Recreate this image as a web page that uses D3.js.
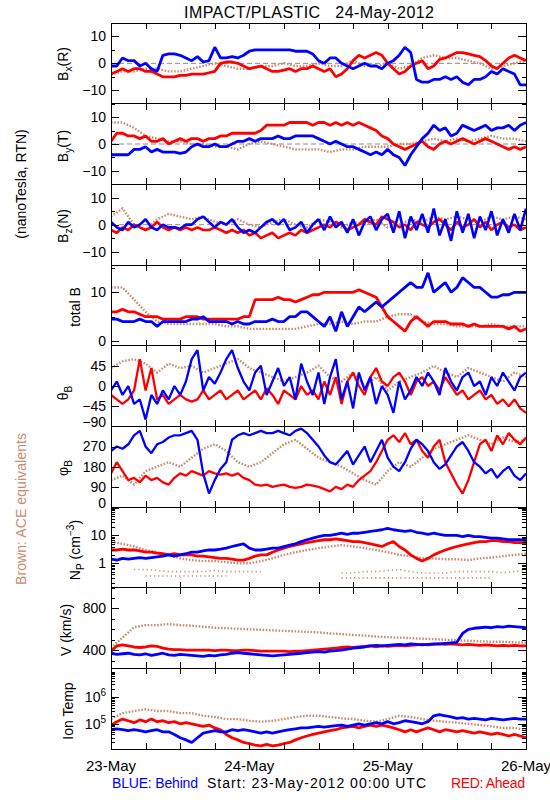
<!DOCTYPE html>
<html><head><meta charset="utf-8">
<script src="https://cdn.jsdelivr.net/npm/d3@7"></script>
<style>
body{margin:0;background:#fff;}
svg text{font-family:"Liberation Sans",Arial,Helvetica,sans-serif;}
</style>
</head><body>
<svg id="chart" width="550" height="800"></svg>
<script>
// ---------------- DATA ----------------
// STEREO Behind (blue) and Ahead (red): hourly samples from 23-May 00:00 (72 h)
// ACE (brown): 2-hourly samples
const dayLabels = ['23-May','24-May','25-May','26-May'];
const dayHours = [0,24,48,72];
const minorTickHours = [6,12,18,24,30,36,42,48,54,60,66];

const bTicks = [-10,0,10], bMinor = [-15,-5,5,15];
const totBTicks = [0,10], totBMinor = [5,15];
const thetaTicks = [-90,-45,0,45], thetaMinor = [];
const phiTicks = [0,90,180,270], phiMinor = [];
const npTicks = [1,10,100], npMinor = [0.2,0.3,0.4,0.5,0.6,0.7,0.8,0.9,2,3,4,5,6,7,8,9,20,30,40,50,60,70,80,90];
const vTicks = [400,800], vMinor = [300,500,600,700,900,1000];
const tTicks = [1e5,1e6], tMinor = [2e4,3e4,4e4,5e4,6e4,7e4,8e4,9e4,2e5,3e5,4e5,5e5,6e5,7e5,8e5,9e5,2e6,3e6,4e6,5e6,6e6,7e6,8e6,9e6];

const behindBx = [-1,-1,2,1,1,-1,0,-2,-3,3,3.5,3.5,3,2,1,2.5,0.5,1,6,2,2,2.5,2,3,4.5,5,5,5,5,5,5,5,4.5,4.5,4.5,3.5,1,0,2,2,0,-1,-2,-1,0,-1,-1,-2,0,1,3,6,4,-6,-7,-7,-6,-6,-5,-6,-5,-7,-8,-6,-6,-5,-3,-4,-2,-3,-4,-8,-8];
const aheadBx = [-4,-3,-2,-3,-2,-2,-3,-3,-4,-5,-5,-5,-4.5,-4.5,-4,-4,-4,-3.5,-3,0,0.5,0.5,0,-1,-2,-1.5,-1,-2,-3,-3,-2.5,-2,-3,-2,-2,-1,-2,-3,-2,-5,-4,-2,1,3,2,3,4,3,0,-2,-4,-3,-1,0,1,-2,-1,1.5,2,3,4,4,3.5,3,2.5,1,-1,-2,0,2,3,2,1];
const aceBx = [-4,-3,-3,-2,-2,-3,-3,-2,-1,0,-1,-2,-2,-1,-1,0,-1,-1,0,-1,-1,1,-1,-1,0,-2,-1,2,3,2,2,1,0,-2,-1,0,1];

const behindBy = [-4,-4,-4,-4,-2,-2,-1,-3,-2,-3,-3,-3,-3.5,-3,-1,0,-1,-1,0,-1,-1,0,1,1,2,1,2,2,2,3,2,2,3,3,3,3,2,1,0,1,0,-1,-1,-2,-3,-4,-3,-4,-2,-4,-5,-8,-4,-1,2,4,7,5,6,3,4,7,6,5,6,7,5,6,6,7,5,7,8];
const aheadBy = [1,4,4,3,3,2,3,1,1,2,0,1,2,1,2,2,1,2,2,3,3,4,4,4,4,4,5,7,7,7,7,8,8,8,8,7,8,8,7,8,7,8,7,8,7,6,5,3,2,0,-1,-2,-1,0,1,-1,-2,0,1,0,1,2,1,0,1,2,1,0,-1,-2,-1,-2,-1];
const aceBy = [8,8,6,3,2,1,1,0,0,-1,-1,-2,0,1,0,-1,-2,-2,-2,-3,-2,-2,-1,-1,-1,0,0,1,2,1,2,1,2,3,2,2,1];

const behindBz = [1,-1,-2,1,-1,0,2,-1,-2,0,-1,-1,-1.5,0,0,2,3,1,-1,1,0,2,-1,-3,-2,-3,-1,1,2,0,2,-2,-1,1,-3,0,2,-2,3,-1,1,-3,2,-4,1,3,-2,2,4,-3,5,-5,3,-2,4,-3,6,-4,2,-6,5,-3,4,-5,3,-2,5,-4,2,-3,4,-2,6];
const aheadBz = [-2,-3,-1,-2,0,-1,-2,-1,1,-1,-2,-1,-2,-1,-2,-1,-2,-2,-1,-2,-3,-2,-3,-2,-4,-3,-5,-4,-3,-5,-4,-3,-4,-2,-3,-2,-1,0,-1,1,0,-2,-1,0,2,1,0,3,2,1,-1,0,-2,1,0,-1,1,2,0,-2,1,-1,0,2,-1,1,-2,0,1,-1,0,-2,-1];
const aceBz = [3,6,0,-2,2,4,3,2,3,1,0,2,0,-1,1,2,0,-1,2,1,-1,1,0,2,-1,0,2,1,3,2,3,2,1,3,2,3,2];

const behindB = [4.5,4.5,4,4,4,4.5,4,4,3,4,4,4,4,4,4.5,4.5,5,4,4,4,4,3.5,4,3.5,3.5,4,4,4,4.5,4,4,5,5,6,6,5,4,3,5,2,6,3,5,7,6,7,8,7,8,9,10,11,12,11,11,14,10,11,12,10,11,13,12,11,11,10,9,9,9.5,9.5,10,10,10];
const aheadB = [6,6,6.5,6,6,5.5,5,5,5,4.5,4.5,4.5,4.5,5,5,5,4.5,4.5,4.5,4.5,4.5,4.5,4.5,5,5,8.5,8.5,8.5,8.5,9,8.5,8.5,8,8.5,9,9.5,9.5,10,10,10,10,10,10,10.5,10,9.5,9,7,5,4,3,2,4,5,4,3,4,4,4,3.5,3.5,3.5,3,3.5,3,3,3,3,3,2.5,3,2,2.5];
const aceB = [11,11,8.5,6,4,3.5,3.5,3.5,3.5,3.5,3,3,2.5,2.5,2.5,2.5,2.5,3,3.5,3.5,4,3.5,4,4,5,5.5,5.5,4,3.5,3.5,3,3,3,3.5,3,3,3];

const behindTheta = [-10,10,-20,0,-40,-30,-75,-20,-40,-10,-30,0,-20,10,60,80,-10,20,5,30,60,80,40,10,-10,30,45,-20,10,40,0,20,-30,50,10,-20,30,-40,20,60,-30,10,-50,30,-10,20,-40,0,-20,-60,10,-30,-10,20,0,30,10,-20,40,10,-10,20,30,0,10,-20,20,0,30,10,-10,20,30];
const aheadTheta = [-20,-30,-40,-30,-10,60,-10,40,-30,-20,-40,-30,-20,-30,-35,-30,-10,-30,-20,-10,-30,-20,-10,-30,-20,-10,-30,-5,-20,-40,-10,-20,-30,0,-20,-10,-30,10,-20,20,-40,10,30,0,-20,20,40,10,0,20,30,10,-20,10,20,0,10,-10,20,0,-20,-10,-30,-20,-10,-30,-20,-40,-30,-45,-30,-50,-60];
const aceTheta = [40,55,60,50,30,50,40,45,30,40,50,60,40,30,20,10,20,30,45,20,10,30,0,20,-10,10,20,30,45,30,20,40,30,20,10,30,20];

const behindPhi = [250,270,260,280,320,340,270,240,280,290,310,320,320,330,340,300,150,60,120,170,200,300,320,330,320,330,340,330,330,340,330,320,340,350,330,300,270,230,200,190,220,250,190,230,270,200,250,300,220,180,160,200,260,300,280,250,200,170,190,230,270,290,250,200,180,150,170,130,160,180,140,120,150];
const aheadPhi = [150,200,160,120,130,110,140,120,130,110,100,130,150,140,160,150,140,160,150,145,150,140,150,130,120,100,95,100,90,95,100,90,85,90,100,95,90,80,70,90,80,100,90,120,140,160,200,250,300,320,290,330,280,300,250,220,270,300,200,150,100,60,120,200,280,300,250,320,280,330,300,280,310];
const acePhi = [120,140,100,160,180,200,180,220,260,280,250,200,180,200,240,280,300,260,220,200,180,150,120,100,160,200,180,220,260,280,300,320,300,280,310,290,300];

const behindNp = [1.4,1.3,1.5,1.4,1.5,1.6,1.5,1.6,1.7,1.8,2,1.8,2,2.2,2.5,2.5,2.8,3,3,3.2,3.5,4,4.5,5,3.5,3,3,3.2,3.5,3.5,4,4.5,5,6,7,8,9,10,10,11,12,11,12,12,13,14,15,16,18,16,15,14,15,13,12,11,12,11,10,10,10,9,10,9,9,8.5,8,8,7.5,7,7,7,6.5];
const aheadNp = [3,3,3.2,3,3,2.8,2.5,2.5,2.3,2.2,2,2.2,2,2,2,1.8,1.8,1.7,1.6,1.5,1.5,1.4,1.3,1.3,1.5,1.8,2,2,2.5,3,3.5,4,4.5,5,5.5,6,6.5,7,7,7.5,7,6.5,6,6,5.5,5,4.5,4,5,6,4,3,2,1.5,1.2,1.5,2,2.5,3,3.5,4,4.5,5,5.5,6,6,6.5,6.5,6,6,5.5,5.5,5];
const aceNp = [6,5,4,3,2.5,2,1.5,1.3,1.2,1.2,1.1,1,1,1.2,1.5,2,2.5,3,3.5,4,4.5,4,3.5,3,2.5,2,1.8,1.5,1.5,1.4,1.4,1.3,1.5,1.6,1.8,2,2.2];
const aceNpLowA = [null,null,0.6,0.6,0.55,0.5,0.5,0.5,0.5,0.55,0.5,0.5,0.5,0.5,null,null,null,null,null,null,0.45,0.45,0.5,0.5,0.55,0.6,0.5,0.45,0.45,0.45,0.5,0.5,0.5,0.5,0.45,0.5,0.55];
const aceNpLowB = [null,null,null,0.35,0.35,0.35,0.35,0.35,0.35,0.35,0.35,null,null,null,null,null,null,null,null,null,0.3,0.3,0.3,0.3,0.3,0.3,0.3,0.3,0.3,0.3,0.3,0.3,0.3,0.3,null,null,null];

const behindV = [370,360,365,370,360,355,365,350,360,370,355,350,360,355,350,345,340,350,345,355,360,370,375,370,365,360,355,350,345,350,355,360,365,370,375,380,385,380,390,395,400,410,420,425,430,440,445,440,445,450,455,450,460,455,450,455,460,460,465,470,475,560,600,610,615,620,615,625,620,630,625,620,615];
const aheadV = [390,440,450,440,430,425,430,440,435,420,410,405,405,400,400,400,400,400,395,400,400,395,395,400,400,395,390,390,390,390,390,385,390,390,395,400,405,410,415,420,425,430,425,430,435,440,430,440,435,440,445,440,445,450,455,450,455,460,455,460,455,450,455,450,445,450,445,440,445,440,445,440,440];
const aceV = [420,520,620,640,640,650,640,635,625,615,610,605,600,595,590,585,580,575,570,560,555,545,540,530,525,520,515,510,505,500,495,490,485,480,480,475,470];

const behindT = [6e4,6.5e4,6e4,5.5e4,6e4,5.5e4,5e4,5.5e4,6e4,5e4,5e4,4e4,3e4,2.5e4,2e4,3e4,4.5e4,5e4,5.5e4,5e4,5e4,6e4,5.5e4,6e4,5.5e4,5e4,4.5e4,5e4,4.5e4,5e4,5.5e4,6e4,6.5e4,7e4,7e4,7.5e4,8e4,7.5e4,8e4,8.5e4,9e4,8e4,9e4,1e5,9e4,1e5,1.1e5,1e5,1.2e5,1e5,1.1e5,1.3e5,1.2e5,1.1e5,1e5,1.2e5,2e5,2.2e5,2e5,1.8e5,1.6e5,1.7e5,1.5e5,1.6e5,1.5e5,1.4e5,1.6e5,1.5e5,1.4e5,1.5e5,1.6e5,1.5e5,1.5e5];
const aheadT = [9e4,1.2e5,1.5e5,1.3e5,1.1e5,1.4e5,1.2e5,1.5e5,1.2e5,1.3e5,1.1e5,1.2e5,1e5,1.1e5,1e5,9e4,8e4,9e4,7e4,6e4,4e4,3e4,2.5e4,2e4,1.8e4,1.6e4,1.5e4,1.7e4,1.5e4,1.6e4,1.8e4,2e4,2.5e4,3e4,3.5e4,4e4,4.5e4,5e4,5.5e4,6e4,7e4,7.5e4,8e4,7e4,8e4,9e4,8e4,9e4,8e4,7e4,6e4,5e4,6e4,5e4,6e4,7e4,6e4,5e4,6e4,5.5e4,5e4,5.5e4,5e4,4.5e4,5e4,4.5e4,4e4,4.5e4,4e4,3.5e4,4e4,3.5e4,3e4];
const aceT = [1.5e5,2.5e5,3e5,3.5e5,3e5,3e5,2.5e5,2.5e5,2e5,1.8e5,1.5e5,1.5e5,1.3e5,1.2e5,1.3e5,1.5e5,1.8e5,2e5,2e5,1.8e5,1.6e5,1.5e5,1.3e5,1.2e5,1.5e5,2e5,1.8e5,1.5e5,1.3e5,1.2e5,1.1e5,1e5,9e4,8e4,7e4,7e4,6e4];

const mainStepHours = 1, aceStepHours = 2, totalHours = 72;

// ---------------- LAYOUT ----------------
const W = 550, H = 800;
const left = 111, right = 526, top0 = 23, bottom0 = 749;
const nP = 9, ph = (bottom0 - top0) / nP;
const BLUE = '#0000ff', RED = '#ff0000', BROWN = '#c98c6e';

const minus = s => String(s).replace('-', '\u2212');
const linFmt = d => minus(d);
const expFmt = d => '10|' + Math.round(Math.log10(d));

const panels = [
  {label:[['B'],['x','sub'],['(R)']], lx:68, ly:64, domain:[-15,15], ticks:bTicks, minor:bMinor, blue:behindBx, red:aheadBx, brown:[aceBx], zero:true, w:2.8},
  {label:[['B'],['y','sub'],['(T)']], lx:68, ly:146, domain:[-15,15], ticks:bTicks, minor:bMinor, blue:behindBy, red:aheadBy, brown:[aceBy], zero:true, w:2.8},
  {label:[['B'],['z','sub'],['(N)']], lx:68, ly:226, domain:[-15,15], ticks:bTicks, minor:bMinor, blue:behindBz, red:aheadBz, brown:[aceBz], zero:true, w:2.6},
  {label:[['total B']], lx:80, ly:307, domain:[-0.95,15.6], ticks:totBTicks, minor:totBMinor, blue:behindB, red:aheadB, brown:[aceB], w:2.8},
  {label:[['\u03B8'],['B','sub']], lx:68, ly:393, domain:[-90,90], ticks:thetaTicks, minor:thetaMinor, blue:behindTheta, red:aheadTheta, brown:[aceTheta], edgeShift:true, w:2.3},
  {label:[['\u03C6'],['B','sub']], lx:68, ly:468, domain:[0,360], ticks:phiTicks, minor:phiMinor, blue:behindPhi, red:aheadPhi, brown:[acePhi], edgeShift:true, w:2.3},
  {label:[['N'],['P','sub'],[' (cm'],['\u22123','sup'],[')']], lx:80, ly:550, log:true, domain:[0.133,105], ticks:npTicks, minor:npMinor, blue:behindNp, red:aheadNp, brown:[aceNp, aceNpLowA, aceNpLowB], fmt:d=>String(d), hide:[100], w:2.8},
  {label:[['V (km/s)']], lx:71, ly:630, domain:[225,1000], ticks:vTicks, minor:vMinor, blue:behindV, red:aheadV, brown:[aceV], w:2.8},
  {label:[['Ion Temp']], lx:73, ly:711, log:true, domain:[1.14e4,1.19e7], ticks:tTicks, minor:tMinor, blue:behindT, red:aheadT, brown:[aceT], fmt:expFmt, w:2.8}
];

const svg = d3.select('#chart');
svg.append('rect').attr('width', W).attr('height', H).attr('fill', '#fff');

const x = d3.scaleLinear().domain([0, totalHours]).range([left, right]);

function richLabel(g, parts, size) {
  let shift = 0;
  parts.forEach(([t, kind]) => {
    const ts = g.append('tspan').text(t);
    let target = 0, fs = size;
    if (kind === 'sub') { target = size * 0.32; fs = size * 0.72; }
    if (kind === 'sup') { target = -size * 0.45; fs = size * 0.72; }
    ts.attr('font-size', fs).attr('dy', target - shift);
    shift = target;
  });
}

panels.forEach((p, i) => {
  const y0 = top0 + i * ph, y1 = y0 + ph;
  const y = (p.log ? d3.scaleLog() : d3.scaleLinear()).domain(p.domain).range([y1, y0]);
  const g = svg.append('g');

  const clipId = 'clip' + i;
  svg.append('clipPath').attr('id', clipId).append('rect')
    .attr('x', left).attr('y', y0).attr('width', right - left).attr('height', ph);
  const dg = g.append('g').attr('clip-path', `url(#${clipId})`);

  if (p.zero) {
    dg.append('line').attr('x1', left).attr('x2', right).attr('y1', y(0)).attr('y2', y(0))
      .attr('stroke', '#8c8c8c').attr('stroke-width', 1).attr('stroke-dasharray', '5,3');
  }

  const line = d3.line().defined(d => d.v != null).x(d => x(d.t)).y(d => y(d.v));
  const pts = (arr, step) => arr.map((v, k) => ({t: k * step, v}));

  p.brown.forEach((arr, k) => {
    dg.append('path').attr('d', line(pts(arr, aceStepHours)))
      .attr('fill', 'none').attr('stroke', BROWN)
      .attr('stroke-width', k === 0 ? 2.4 : 1.6)
      .attr('stroke-dasharray', k === 0 ? '1.6,1.6' : '1.2,3');
  });
  dg.append('path').attr('d', line(pts(p.red, mainStepHours)))
    .attr('fill', 'none').attr('stroke', RED).attr('stroke-width', p.w).attr('stroke-linejoin', 'bevel');
  dg.append('path').attr('d', line(pts(p.blue, mainStepHours)))
    .attr('fill', 'none').attr('stroke', BLUE).attr('stroke-width', p.w).attr('stroke-linejoin', 'bevel');

  // frame
  g.append('rect').attr('x', left).attr('y', y0).attr('width', right - left).attr('height', ph)
    .attr('fill', 'none').attr('stroke', '#000').attr('stroke-width', 1).attr('shape-rendering', 'crispEdges');

  const fmt = p.fmt || linFmt;
  const clean = s => s.select('.domain').remove();

  const la = g.append('g').attr('transform', `translate(${left},0)`)
    .call(d3.axisLeft(y).tickValues(p.ticks).tickSize(-8).tickPadding(5).tickFormat(fmt)).call(clean);
  la.attr('font-family', null).attr('font-size', null);
  la.selectAll('line').attr('stroke', '#000').attr('shape-rendering', 'crispEdges');
  la.selectAll('text').attr('font-size', 14).attr('fill', '#000').each(function(d) {
    const t = d3.select(this);
    const s = t.text();
    if (p.hide && p.hide.includes(d)) { t.remove(); return; }
    if (s.indexOf('|') >= 0) {
      const [base, ex] = s.split('|');
      t.text(base);
      t.append('tspan').attr('font-size', 10).attr('dy', -6).text(ex);
    }
    if (p.edgeShift && d === p.domain[0]) t.attr('y', -4);
  });
  g.append('g').attr('transform', `translate(${left},0)`)
    .call(d3.axisLeft(y).tickValues(p.minor).tickSize(-4).tickFormat('')).call(clean)
    .selectAll('line').attr('stroke', '#000').attr('shape-rendering', 'crispEdges');
  g.append('g').attr('transform', `translate(${right},0)`)
    .call(d3.axisRight(y).tickValues(p.ticks).tickSize(-8).tickFormat('')).call(clean)
    .selectAll('line').attr('stroke', '#000').attr('shape-rendering', 'crispEdges');
  g.append('g').attr('transform', `translate(${right},0)`)
    .call(d3.axisRight(y).tickValues(p.minor).tickSize(-4).tickFormat('')).call(clean)
    .selectAll('line').attr('stroke', '#000').attr('shape-rendering', 'crispEdges');
  g.append('g').attr('transform', `translate(0,${y1})`)
    .call(d3.axisBottom(x).tickValues(minorTickHours).tickSize(-6).tickFormat('')).call(clean)
    .selectAll('line').attr('stroke', '#000').attr('shape-rendering', 'crispEdges');
  g.append('g').attr('transform', `translate(0,${y0})`)
    .call(d3.axisTop(x).tickValues(minorTickHours).tickSize(-6).tickFormat('')).call(clean)
    .selectAll('line').attr('stroke', '#000').attr('shape-rendering', 'crispEdges');

  const lt = svg.append('text').attr('transform', `translate(${p.lx},${p.ly}) rotate(-90)`)
    .attr('text-anchor', 'middle').attr('fill', '#000');
  richLabel(lt, p.label, 14);
});

svg.append('g').selectAll('text').data(dayLabels).join('text')
  .attr('x', (d, k) => x(dayHours[k])).attr('y', 771)
  .attr('text-anchor', 'middle').attr('font-size', 15).attr('fill', '#000').text(d => d);

svg.append('text').attr('x', 184).attr('y', 18).attr('font-size', 16).attr('fill', '#000')
  .style('white-space', 'pre').attr('textLength', 250).text('IMPACT/PLASTIC   24-May-2012');

svg.append('text').attr('transform', 'translate(26,184) rotate(-90)').attr('text-anchor', 'middle')
  .attr('font-size', 14).attr('fill', '#000').text('(nanoTesla, RTN)');
svg.append('text').attr('transform', 'translate(26,509) rotate(-90)').attr('text-anchor', 'middle')
  .attr('font-size', 14).attr('fill', BROWN).attr('textLength', 152).text('Brown: ACE equivalents');

svg.append('text').attr('x', 112).attr('y', 788).attr('font-size', 14).attr('fill', BLUE)
  .attr('textLength', 86).text('BLUE: Behind');
svg.append('text').attr('x', 207).attr('y', 788).attr('font-size', 14).attr('fill', '#000')
  .attr('textLength', 219).text('Start: 23-May-2012 00:00 UTC');
svg.append('text').attr('x', 451).attr('y', 788).attr('font-size', 14).attr('fill', RED)
  .attr('textLength', 74).text('RED: Ahead');
</script>
</body></html>
